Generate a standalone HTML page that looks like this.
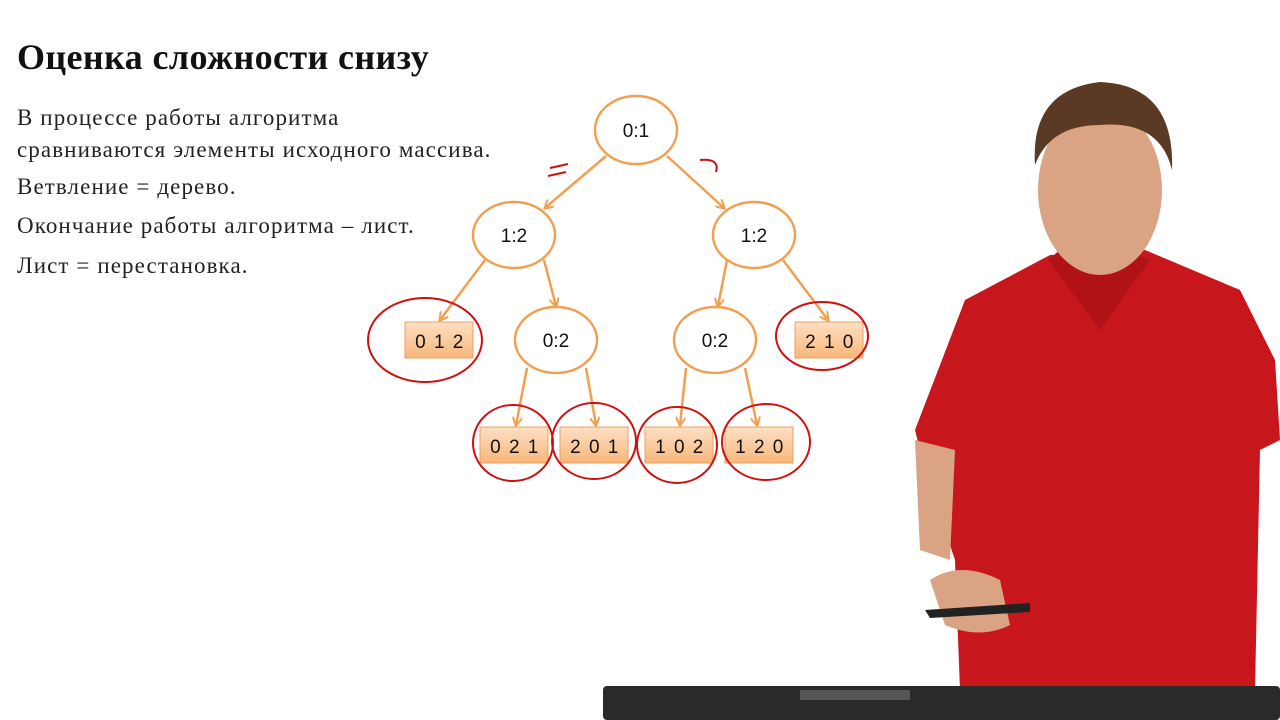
<!DOCTYPE html><html><head><meta charset="utf-8"><style>
body{margin:0;width:1280px;height:720px;background:#fff;overflow:hidden;position:relative;font-family:"Liberation Serif",serif}
h1{position:absolute;left:17px;top:36px;margin:0;font-size:36px;font-weight:bold;color:#111;letter-spacing:0.4px}
.t{position:absolute;left:17px;font-size:23px;color:#222;line-height:32px;letter-spacing:1.1px;white-space:nowrap}
</style></head><body>
<h1>Оценка сложности снизу</h1>
<div class="t" style="top:102px">В процессе работы алгоритма<br>сравниваются элементы исходного массива.</div>
<div class="t" style="top:171px">Ветвление = дерево.</div>
<div class="t" style="top:210px">Окончание работы алгоритма – лист.</div>
<div class="t" style="top:250px">Лист = перестановка.</div>
<svg width="1280" height="720" style="position:absolute;left:0;top:0">
<defs><marker id="a" markerWidth="10" markerHeight="10" refX="8" refY="5" orient="auto" markerUnits="userSpaceOnUse"><path d="M0,0 L9,5 L0,10" fill="none" stroke="#f0a050" stroke-width="2"/></marker>
<linearGradient id="g" x1="0" y1="0" x2="0" y2="1"><stop offset="0" stop-color="#fde0c4"/><stop offset="1" stop-color="#f7b77a"/></linearGradient></defs>
<g stroke="#f0a050" stroke-width="2.5" marker-end="url(#a)">
<line x1="606" y1="156" x2="545" y2="208"/><line x1="667" y1="156" x2="724" y2="208"/>
<line x1="485" y1="260" x2="440" y2="320"/><line x1="544" y1="260" x2="556" y2="306"/>
<line x1="727" y1="260" x2="718" y2="306"/><line x1="783" y1="260" x2="828" y2="320"/>
<line x1="527" y1="368" x2="516" y2="425"/><line x1="586" y1="368" x2="596" y2="425"/>
<line x1="686" y1="368" x2="680" y2="425"/><line x1="745" y1="368" x2="757" y2="425"/>
</g>
<g fill="#fff" stroke="#f0a050" stroke-width="2.5">
<ellipse cx="636" cy="130" rx="41" ry="34"/><ellipse cx="514" cy="235" rx="41" ry="33"/><ellipse cx="754" cy="235" rx="41" ry="33"/>
<ellipse cx="556" cy="340" rx="41" ry="33"/><ellipse cx="715" cy="340" rx="41" ry="33"/></g>
<g font-family="Liberation Sans,sans-serif" font-size="19" text-anchor="middle" fill="#111">
<text x="636" y="137">0:1</text><text x="514" y="242">1:2</text><text x="754" y="242">1:2</text><text x="556" y="347">0:2</text><text x="715" y="347">0:2</text></g>
<g stroke="#e8a060" stroke-width="1" fill="url(#g)">
<rect x="405" y="322" width="68" height="36"/><rect x="795" y="322" width="68" height="36"/>
<rect x="480" y="427" width="68" height="36"/><rect x="560" y="427" width="68" height="36"/><rect x="645" y="427" width="68" height="36"/><rect x="725" y="427" width="68" height="36"/></g>
<g font-family="Liberation Sans,sans-serif" font-size="19" text-anchor="middle" fill="#111" letter-spacing="1.5">
<text x="440" y="348">0 1 2</text><text x="830" y="348">2 1 0</text><text x="515" y="453">0 2 1</text><text x="595" y="453">2 0 1</text><text x="680" y="453">1 0 2</text><text x="760" y="453">1 2 0</text></g>
<g fill="none" stroke="#d01010" stroke-width="2">
<ellipse cx="425" cy="340" rx="57" ry="42"/><ellipse cx="822" cy="336" rx="46" ry="34"/>
<ellipse cx="513" cy="443" rx="40" ry="38"/><ellipse cx="594" cy="441" rx="42" ry="38"/><ellipse cx="677" cy="445" rx="40" ry="38"/><ellipse cx="766" cy="442" rx="44" ry="38"/>
<path d="M550 168 L568 164 M548 176 L566 172"/><path d="M700 160 Q720 158 716 172"/></g>
<path d="M965 300 L1050 255 L1145 250 L1240 290 L1275 360 L1280 440 L1260 450 L1255 690 L960 690 L955 560 L925 470 L915 430 Z" fill="#c8171c"/>
<path d="M1048 260 L1100 330 L1150 260 L1130 250 L1060 250 Z" fill="#b01218"/>
<ellipse cx="1100" cy="190" rx="62" ry="85" fill="#d9a384"/>
<path d="M1035 165 Q1030 90 1100 82 Q1175 85 1172 170 Q1160 120 1100 125 Q1050 125 1035 165Z" fill="#5a3a24"/>
<path d="M915 440 L955 450 L950 560 L920 550 Z" fill="#d9a384"/>
<path d="M930 580 Q960 560 1000 580 L1010 625 Q980 640 945 625 Z" fill="#d9a384"/>
<path d="M925 610 L1030 603 L1030 612 L930 618Z" fill="#222"/>
<rect x="603" y="686" width="677" height="34" rx="4" fill="#2a2a2a"/>
<rect x="800" y="690" width="110" height="10" fill="#555"/>
</svg>
</body></html>
